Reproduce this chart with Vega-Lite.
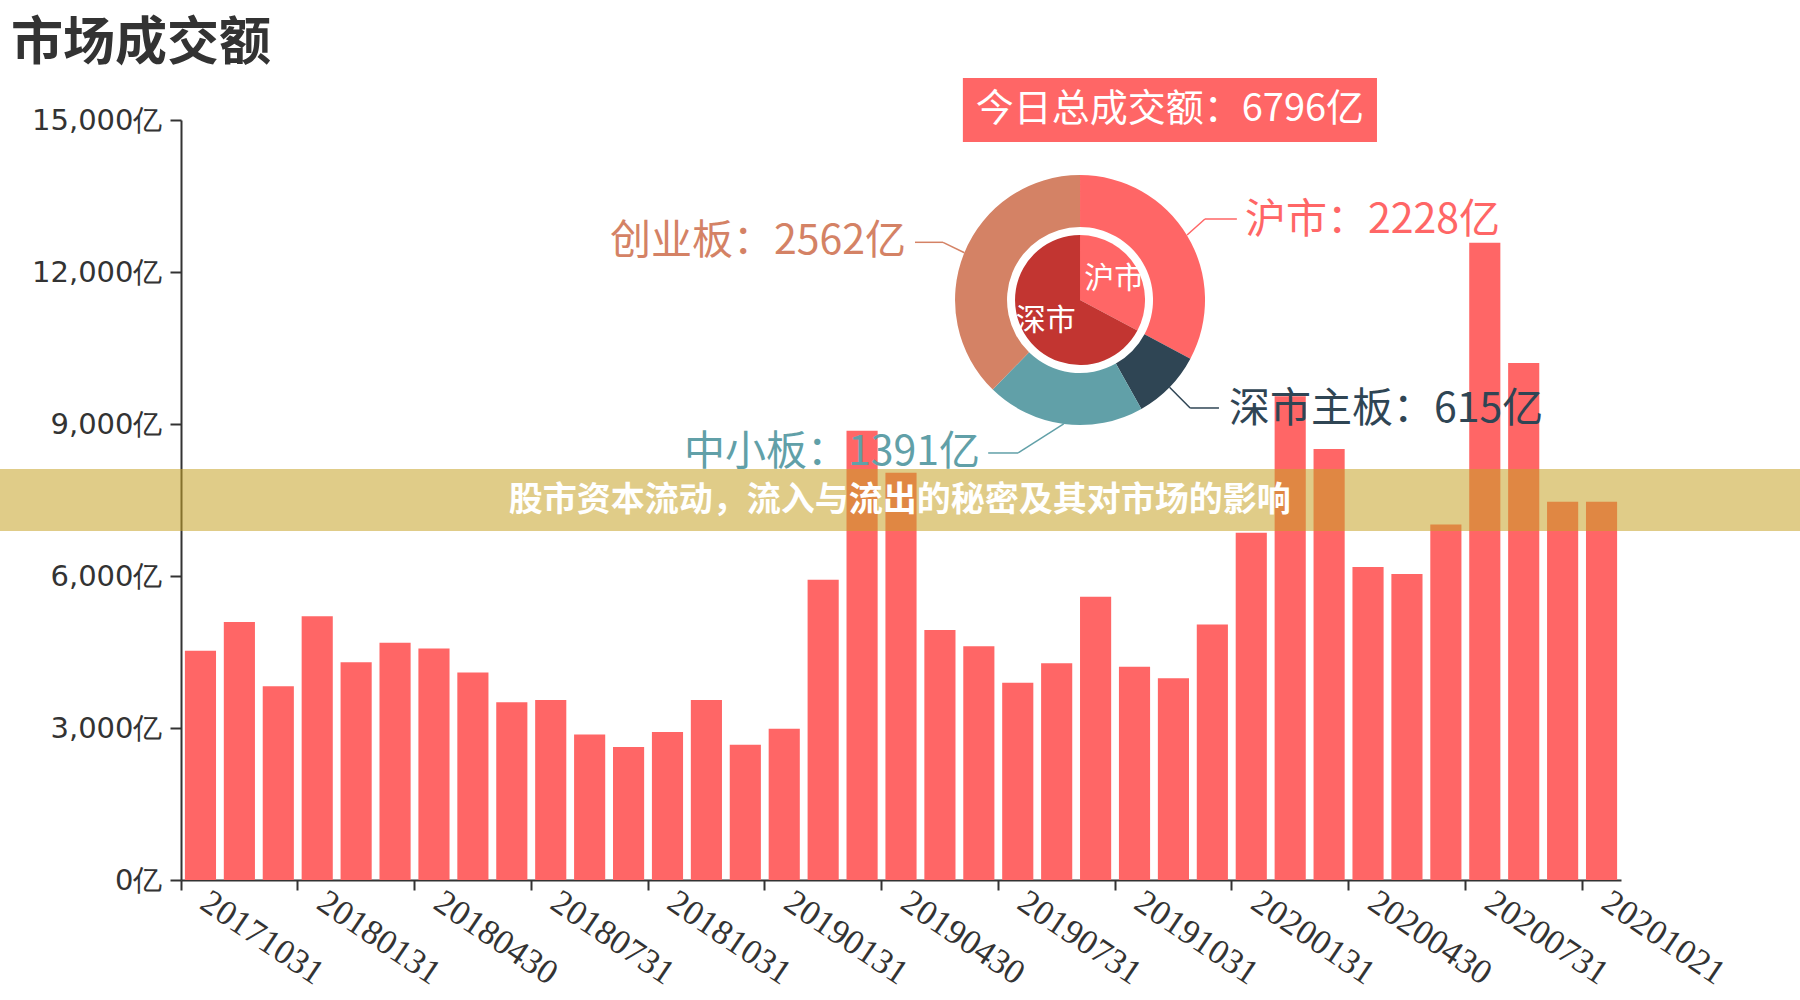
{
  "$schema": "https://vega.github.io/schema/vega-lite/v6.json",
  "width": 1440,
  "height": 760,
  "autosize": {"type": "none"},
  "padding": {"left": 181, "top": 120, "right": 179, "bottom": 120},
  "background": "white",
  "config": {"view": {"stroke": null}},
  "title": {"text": "市场成交额", "anchor": "start", "frame": "group", "dx": -170, "dy": -3, "fontSize": 52, "font": "Noto Sans CJK SC", "fontWeight": "bold", "color": "#333333"},
  "datasets": {
    "bars": [
      {"date": "20171031", "amount": 4525}, {"date": "20171130", "amount": 5090}, {"date": "20171229", "amount": 3824},
      {"date": "20180131", "amount": 5204}, {"date": "20180228", "amount": 4299}, {"date": "20180330", "amount": 4683},
      {"date": "20180430", "amount": 4570}, {"date": "20180531", "amount": 4095}, {"date": "20180629", "amount": 3507},
      {"date": "20180731", "amount": 3552}, {"date": "20180831", "amount": 2873}, {"date": "20180928", "amount": 2624},
      {"date": "20181031", "amount": 2919}, {"date": "20181130", "amount": 3552}, {"date": "20181228", "amount": 2670},
      {"date": "20190131", "amount": 2986}, {"date": "20190228", "amount": 5928}, {"date": "20190329", "amount": 8869},
      {"date": "20190430", "amount": 8040}, {"date": "20190531", "amount": 4932}, {"date": "20190628", "amount": 4615},
      {"date": "20190731", "amount": 3891}, {"date": "20190830", "amount": 4276}, {"date": "20190930", "amount": 5588},
      {"date": "20191031", "amount": 4208}, {"date": "20191129", "amount": 3982}, {"date": "20191231", "amount": 5045},
      {"date": "20200131", "amount": 6855}, {"date": "20200228", "amount": 9548}, {"date": "20200331", "amount": 8507},
      {"date": "20200430", "amount": 6176}, {"date": "20200529", "amount": 6041}, {"date": "20200630", "amount": 7014},
      {"date": "20200731", "amount": 12579}, {"date": "20200831", "amount": 10204}, {"date": "20200930", "amount": 7466},
      {"date": "20201021", "amount": 7466}
    ],
    "outer": [
      {"name": "沪市", "value": 2228, "k": 0},
      {"name": "深市主板", "value": 615, "k": 1},
      {"name": "中小板", "value": 1391, "k": 2},
      {"name": "创业板", "value": 2562, "k": 3}
    ],
    "inner": [
      {"name": "沪市", "value": 2228, "k": 0},
      {"name": "深市", "value": 4568, "k": 1}
    ],
    "one": [{}]
  },
  "resolve": {"scale": {"x": "independent", "y": "independent", "theta": "independent", "color": "independent"}, "axis": {"x": "independent", "y": "independent"}},
  "layer": [
    {
      "data": {"name": "bars"},
      "mark": {"type": "bar", "color": "#ff6666", "width": {"band": 0.8}},
      "encoding": {
        "x": {"field": "date", "type": "ordinal", "sort": null,
          "scale": {"paddingInner": 0, "paddingOuter": 0},
          "axis": {"title": null, "values": ["20171031", "20180131", "20180430", "20180731", "20181031", "20190131", "20190430", "20190731", "20191031", "20200131", "20200430", "20200731", "20201021"],
            "bandPosition": 0, "labelOffset": 4, "labelAngle": 34, "labelAlign": "left", "labelBaseline": "middle",
            "labelFont": "Liberation Serif", "labelFontSize": 35, "labelColor": "#333333", "labelPadding": 8,
            "tickSize": 10, "tickWidth": 2, "tickColor": "#333333", "domainColor": "#333333", "domainWidth": 2,
            "labelOverlap": false, "labelFlush": false, "labelBound": false, "grid": false}},
        "y": {"field": "amount", "type": "quantitative",
          "scale": {"domain": [0, 15000], "nice": false},
          "axis": {"title": null, "values": [0, 3000, 6000, 9000, 12000, 15000], "labelExpr": "format(datum.value, ',') + '亿'",
            "labelFont": "DejaVu Sans", "labelFontSize": 29, "labelColor": "#333333", "labelPadding": 8,
            "tickSize": 11, "tickWidth": 2, "tickColor": "#333333", "domainColor": "#333333", "domainWidth": 2, "grid": false}}
      }
    },
    {
      "data": {"name": "outer"},
      "mark": {"type": "arc", "outerRadius": 125, "innerRadius": 73},
      "encoding": {
        "x": {"datum": 23.1, "type": "quantitative", "scale": {"domain": [0, 37], "nice": false}, "axis": null},
        "y": {"datum": 11447, "type": "quantitative", "scale": {"domain": [0, 15000], "nice": false}, "axis": null},
        "theta": {"field": "value", "type": "quantitative", "stack": true},
        "order": {"field": "k"},
        "color": {"field": "name", "type": "nominal", "legend": null,
          "scale": {"domain": ["沪市", "深市主板", "中小板", "创业板"], "range": ["#ff6666", "#2f4554", "#61a0a8", "#d48265"]}}
      }
    },
    {
      "data": {"name": "inner"},
      "mark": {"type": "arc", "outerRadius": 65, "innerRadius": 0},
      "encoding": {
        "x": {"datum": 23.1, "type": "quantitative", "scale": {"domain": [0, 37], "nice": false}, "axis": null},
        "y": {"datum": 11447, "type": "quantitative", "scale": {"domain": [0, 15000], "nice": false}, "axis": null},
        "theta": {"field": "value", "type": "quantitative", "stack": true},
        "order": {"field": "k"},
        "color": {"field": "name", "type": "nominal", "legend": null,
          "scale": {"domain": ["沪市", "深市"], "range": ["#ff6666", "#c23531"]}}
      }
    },
    {
      "data": {"name": "inner"},
      "mark": {"type": "text", "radius": 40, "color": "white", "font": "Noto Sans CJK SC", "fontSize": 30},
      "encoding": {
        "x": {"datum": 23.1, "type": "quantitative", "scale": {"domain": [0, 37], "nice": false}, "axis": null},
        "y": {"datum": 11447, "type": "quantitative", "scale": {"domain": [0, 15000], "nice": false}, "axis": null},
        "theta": {"field": "value", "type": "quantitative", "stack": true},
        "order": {"field": "k"},
        "detail": {"field": "name"},
        "text": {"field": "name"}
      }
    },
    {"data": {"name": "one"}, "mark": {"type": "rule", "color": "#ff6666", "strokeWidth": 1.5},
     "encoding": {"x": {"datum": 25.85, "type": "quantitative", "scale": {"domain": [0, 37], "nice": false}, "axis": null}, "y": {"datum": 12731, "type": "quantitative", "scale": {"domain": [0, 15000], "nice": false}, "axis": null}, "x2": {"datum": 26.31}, "y2": {"datum": 13046}}},
    {"data": {"name": "one"}, "mark": {"type": "rule", "color": "#ff6666", "strokeWidth": 1.5},
     "encoding": {"x": {"datum": 26.31, "type": "quantitative", "scale": {"domain": [0, 37], "nice": false}, "axis": null}, "y": {"datum": 13046, "type": "quantitative", "scale": {"domain": [0, 15000], "nice": false}, "axis": null}, "x2": {"datum": 27.13}, "y2": {"datum": 13046}}},
    {"data": {"name": "one"}, "mark": {"type": "rule", "color": "#2f4554", "strokeWidth": 1.5},
     "encoding": {"x": {"datum": 25.40, "type": "quantitative", "scale": {"domain": [0, 37], "nice": false}, "axis": null}, "y": {"datum": 9725, "type": "quantitative", "scale": {"domain": [0, 15000], "nice": false}, "axis": null}, "x2": {"datum": 25.93}, "y2": {"datum": 9316}}},
    {"data": {"name": "one"}, "mark": {"type": "rule", "color": "#2f4554", "strokeWidth": 1.5},
     "encoding": {"x": {"datum": 25.93, "type": "quantitative", "scale": {"domain": [0, 37], "nice": false}, "axis": null}, "y": {"datum": 9316, "type": "quantitative", "scale": {"domain": [0, 15000], "nice": false}, "axis": null}, "x2": {"datum": 26.67}, "y2": {"datum": 9316}}},
    {"data": {"name": "one"}, "mark": {"type": "rule", "color": "#61a0a8", "strokeWidth": 1.5},
     "encoding": {"x": {"datum": 22.68, "type": "quantitative", "scale": {"domain": [0, 37], "nice": false}, "axis": null}, "y": {"datum": 9002, "type": "quantitative", "scale": {"domain": [0, 15000], "nice": false}, "axis": null}, "x2": {"datum": 21.51}, "y2": {"datum": 8428}}},
    {"data": {"name": "one"}, "mark": {"type": "rule", "color": "#61a0a8", "strokeWidth": 1.5},
     "encoding": {"x": {"datum": 21.51, "type": "quantitative", "scale": {"domain": [0, 37], "nice": false}, "axis": null}, "y": {"datum": 8428, "type": "quantitative", "scale": {"domain": [0, 15000], "nice": false}, "axis": null}, "x2": {"datum": 20.74}, "y2": {"datum": 8428}}},
    {"data": {"name": "one"}, "mark": {"type": "rule", "color": "#d48265", "strokeWidth": 1.5},
     "encoding": {"x": {"datum": 20.13, "type": "quantitative", "scale": {"domain": [0, 37], "nice": false}, "axis": null}, "y": {"datum": 12379, "type": "quantitative", "scale": {"domain": [0, 15000], "nice": false}, "axis": null}, "x2": {"datum": 19.58}, "y2": {"datum": 12586}}},
    {"data": {"name": "one"}, "mark": {"type": "rule", "color": "#d48265", "strokeWidth": 1.5},
     "encoding": {"x": {"datum": 19.58, "type": "quantitative", "scale": {"domain": [0, 37], "nice": false}, "axis": null}, "y": {"datum": 12586, "type": "quantitative", "scale": {"domain": [0, 15000], "nice": false}, "axis": null}, "x2": {"datum": 18.86}, "y2": {"datum": 12586}}},
    {"data": {"name": "one"}, "mark": {"type": "text", "color": "#ff6666", "font": "Noto Sans CJK SC", "fontSize": 41, "align": "left", "baseline": "middle"},
     "encoding": {"x": {"datum": 27.34, "type": "quantitative", "scale": {"domain": [0, 37], "nice": false}, "axis": null}, "y": {"datum": 13007, "type": "quantitative", "scale": {"domain": [0, 15000], "nice": false}, "axis": null}, "text": {"value": "沪市：2228亿"}}},
    {"data": {"name": "one"}, "mark": {"type": "text", "color": "#2f4554", "font": "Noto Sans CJK SC", "fontSize": 41, "align": "left", "baseline": "middle"},
     "encoding": {"x": {"datum": 26.93, "type": "quantitative", "scale": {"domain": [0, 37], "nice": false}, "axis": null}, "y": {"datum": 9276, "type": "quantitative", "scale": {"domain": [0, 15000], "nice": false}, "axis": null}, "text": {"value": "深市主板：615亿"}}},
    {"data": {"name": "one"}, "mark": {"type": "text", "color": "#61a0a8", "font": "Noto Sans CJK SC", "fontSize": 41, "align": "right", "baseline": "middle"},
     "encoding": {"x": {"datum": 20.53, "type": "quantitative", "scale": {"domain": [0, 37], "nice": false}, "axis": null}, "y": {"datum": 8428, "type": "quantitative", "scale": {"domain": [0, 15000], "nice": false}, "axis": null}, "text": {"value": "中小板：1391亿"}}},
    {"data": {"name": "one"}, "mark": {"type": "text", "color": "#d48265", "font": "Noto Sans CJK SC", "fontSize": 41, "align": "right", "baseline": "middle"},
     "encoding": {"x": {"datum": 18.63, "type": "quantitative", "scale": {"domain": [0, 37], "nice": false}, "axis": null}, "y": {"datum": 12586, "type": "quantitative", "scale": {"domain": [0, 15000], "nice": false}, "axis": null}, "text": {"value": "创业板：2562亿"}}},
    {"data": {"name": "one"}, "mark": {"type": "rect", "color": "#ff6666"},
     "encoding": {"x": {"datum": 20.09, "type": "quantitative", "scale": {"domain": [0, 37], "nice": false}, "axis": null}, "y": {"datum": 15829, "type": "quantitative", "scale": {"domain": [0, 15000], "nice": false}, "axis": null}, "x2": {"datum": 30.73}, "y2": {"datum": 14566}}},
    {"data": {"name": "one"}, "mark": {"type": "text", "color": "white", "font": "Noto Sans CJK SC", "fontSize": 38, "align": "center", "baseline": "middle"},
     "encoding": {"x": {"datum": 25.41, "type": "quantitative", "scale": {"domain": [0, 37], "nice": false}, "axis": null}, "y": {"datum": 15197, "type": "quantitative", "scale": {"domain": [0, 15000], "nice": false}, "axis": null}, "text": {"value": "今日总成交额：6796亿"}}},
    {"data": {"name": "one"}, "mark": {"type": "rect", "color": "#c6a227", "opacity": 0.55},
     "encoding": {"x": {"datum": -4.651, "type": "quantitative", "scale": {"domain": [0, 37], "nice": false}, "axis": null}, "y": {"datum": 8112, "type": "quantitative", "scale": {"domain": [0, 15000], "nice": false}, "axis": null}, "x2": {"datum": 41.6}, "y2": {"datum": 6888}}},
    {"data": {"name": "one"}, "mark": {"type": "text", "color": "white", "font": "Noto Sans CJK SC", "fontWeight": "bold", "fontSize": 34, "align": "center", "baseline": "middle"},
     "encoding": {"x": {"datum": 18.47, "type": "quantitative", "scale": {"domain": [0, 37], "nice": false}, "axis": null}, "y": {"datum": 7480, "type": "quantitative", "scale": {"domain": [0, 15000], "nice": false}, "axis": null}, "text": {"value": "股市资本流动，流入与流出的秘密及其对市场的影响"}}}
  ]
}
